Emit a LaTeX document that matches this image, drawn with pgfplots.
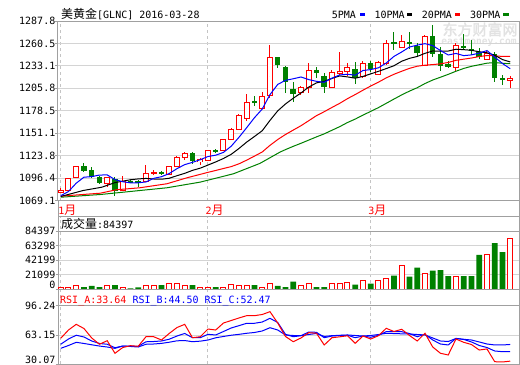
\documentclass[border=0pt]{standalone}
\usepackage{pgfplots}
\pgfplotsset{compat=1.18}
\usepackage{pgfplotstable}
\usepackage{fontspec}
\setmainfont{DejaVu Sans Mono}
\newfontfamily\cjk{Noto Sans CJK SC}
\newfontfamily\cjkb[FakeBold=2]{Noto Sans CJK SC}
\definecolor{cred}{HTML}{FF0000}
\definecolor{cgreen}{HTML}{008000}
\definecolor{cblue}{HTML}{0000FF}
\definecolor{framec}{HTML}{A0A0A0}
\definecolor{gridc}{HTML}{D4D4D4}
\definecolor{dashc}{HTML}{C4C4C4}
\definecolor{wm}{HTML}{E2E2E2}
\newcommand\yue{{\cjk\fontsize{12bp}{12bp}\selectfont 月}}

\pgfplotstableread{
i o h l c
0 1078.9 1084.4 1078.3 1081.3
1 1081.0 1096.3 1080.5 1095.6
2 1096.8 1111.5 1096.3 1110.3
6 1089.5 1098.1 1085.4 1096.8
8 1081.7 1098.8 1081.3 1092.3
11 1091.7 1112.5 1091.1 1101.7
12 1102.5 1106.6 1100.0 1103.7
14 1100.9 1111.5 1099.6 1110.3
15 1110.6 1123.7 1110.3 1121.3
16 1122.0 1128.6 1118.0 1126.2
18 1116.8 1120.8 1112.2 1118.8
19 1117.6 1130.8 1116.8 1129.8
21 1130.2 1144.5 1129.3 1143.3
22 1143.3 1157.9 1142.8 1155.5
23 1156.2 1175.0 1154.6 1173.0
24 1168.9 1198.6 1166.0 1188.8
26 1181.5 1201.1 1180.3 1196.2
27 1197.0 1258.5 1193.7 1243.5
31 1200.2 1208.4 1197.4 1206.8
32 1206.8 1236.5 1199.5 1227.6
35 1207.2 1227.9 1205.9 1224.6
36 1223.9 1250.3 1221.5 1226.4
37 1225.9 1236.9 1220.6 1231.6
39 1219.8 1238.9 1218.8 1236.1
41 1222.7 1239.3 1221.8 1237.3
42 1235.6 1265.0 1234.7 1260.6
44 1255.7 1271.1 1254.8 1263.0
47 1233.2 1270.7 1232.8 1269.5
51 1230.7 1260.9 1225.5 1258.5
55 1241.4 1251.5 1240.2 1248.3
58 1214.9 1220.6 1205.6 1218.2
}\upc

\pgfplotstableread{
i o h l c
3 1110.3 1114.7 1104.2 1105.4
4 1105.8 1110.3 1096.8 1098.4
5 1096.8 1099.3 1089.9 1090.7
7 1095.1 1097.6 1074.4 1081.7
9 1092.3 1093.5 1090.5 1091.5
10 1092.3 1093.5 1085.0 1091.1
13 1103.7 1105.4 1099.6 1102.5
17 1126.2 1127.8 1113.9 1117.6
20 1130.2 1131.8 1127.4 1129.0
25 1190.1 1197.0 1184.8 1189.2
28 1243.5 1244.2 1230.0 1234.9
29 1231.2 1232.8 1200.2 1213.6
30 1204.4 1213.6 1189.2 1199.0
33 1227.6 1231.2 1217.8 1224.6
34 1220.6 1223.9 1200.2 1207.5
38 1228.8 1237.3 1210.5 1219.0
40 1235.6 1239.3 1225.9 1230.0
43 1261.8 1274.7 1252.7 1259.7
45 1262.1 1274.7 1254.0 1259.7
46 1257.3 1260.6 1245.0 1249.1
48 1269.5 1282.6 1243.8 1247.5
49 1247.5 1255.7 1226.7 1233.2
50 1234.4 1238.9 1230.4 1232.8
52 1257.3 1271.6 1253.6 1256.0
53 1253.2 1264.6 1246.3 1252.0
54 1249.6 1254.5 1241.4 1244.2
56 1246.6 1250.3 1213.6 1219.0
57 1217.8 1221.8 1210.0 1216.6
}\downc

\pgfplotstableread{
i v
0 1900
1 2900
2 4400
6 4400
8 1500
11 4400
12 5300
14 7800
15 8700
16 5800
18 2400
19 2400
21 2900
22 6800
23 5800
24 5800
26 2400
27 8700
31 4400
32 7300
35 8700
36 8700
37 9700
39 12600
41 12600
42 16000
44 33500
47 22800
51 18900
55 49500
58 73700
}\upv

\pgfplotstableread{
i v
3 2900
4 4400
5 2900
7 5800
9 1000
10 2400
13 5800
17 5800
20 2900
25 5800
28 4400
29 2900
30 10700
33 2900
34 2900
38 6300
40 7700
43 19400
45 17900
46 31000
48 26600
49 27600
50 18900
52 18900
53 18900
54 49500
56 66900
57 53800
}\downv

\pgfplotsset{
  panel/.style={
    scale only axis, anchor=north west, width=461.3bp,
    xmin=-0.35, xmax=59.17,
    axis line style={framec, line width=1bp},
    xtick={0,19,40}, xmajorgrids,
    major x grid style={dashc, dash pattern=on 3bp off 3bp, line width=1bp},
    ymajorgrids, major y grid style={gridc, line width=1bp},
    tick align=outside, major tick length=2.5bp,
    ytick style={draw=framec, line width=1bp},
    xtick style={draw=none},
    yticklabel style={font=\fontsize{10bp}{10bp}\selectfont, inner sep=0pt},
    scaled y ticks=false,
  },
  wick/.style={only marks, mark=none, mark size=0pt, mark options={draw=none, fill=none}, forget plot,
    error bars/.cd, y dir=both, y explicit, error mark=none,
    error bar style={draw=#1, line width=1bp}},
  body/.style 2 args={only marks, mark=none, mark size=0pt, mark options={draw=none, fill=none}, forget plot,
    error bars/.cd, y dir=both, y explicit, error mark=none,
    error bar style={draw=#1, line width=#2, line cap=butt}},
}

\begin{document}
\begin{tikzpicture}
\path[use as bounding box] (0,0) rectangle (520bp,-365bp);

% watermark
\node[text=wm, inner sep=0, font=\cjkb\fontsize{15bp}{15bp}\selectfont] at (480bp,-29.5bp) {东方财富网};
\node[text=wm, inner sep=0, font=\bfseries\fontsize{9.6bp}{10bp}\selectfont] at (479bp,-42.5bp) {eastmoney.com};

% price panel
\begin{axis}[panel, at={(58bp,-21bp)}, height=179.5bp,
  ymin=1069.1, ymax=1287.8,
  ytick={1069.1,1096.4,1123.8,1151.1,1178.5,1205.8,1233.1,1260.5,1287.8},
  yticklabels={1069.1,1096.4,1123.8,1151.1,1178.5,1205.8,1233.1,1260.5,1287.8},
  xticklabels={1\yue,2\yue,3\yue},
  xticklabel style={anchor=north west, inner sep=0pt, xshift=-2.5bp, yshift=-2bp, text=cred, font=\fontsize{10bp}{12bp}\selectfont},
]
% wicks
\addplot[wick=cred] table[x=i, y=c, y error plus expr={\thisrow{h}-\thisrow{c}}, y error minus expr={\thisrow{c}-\thisrow{l}}] {\upc};
\addplot[wick=cgreen] table[x=i, y=c, y error plus expr={\thisrow{h}-\thisrow{c}}, y error minus expr={\thisrow{c}-\thisrow{l}}] {\downc};
% bodies
\addplot[body={cred}{6bp}] table[x=i, y expr={(\thisrow{o}+\thisrow{c})/2}, y error expr={abs(\thisrow{c}-\thisrow{o})/2+0.6}] {\upc};
\addplot[body={white}{4bp}] table[x=i, y expr={(\thisrow{o}+\thisrow{c})/2}, y error expr={max(abs(\thisrow{c}-\thisrow{o})/2-0.6,0)}] {\upc};
\addplot[body={cgreen}{5.5bp}] table[x=i, y expr={(\thisrow{o}+\thisrow{c})/2}, y error expr={abs(\thisrow{c}-\thisrow{o})/2+0.5}] {\downc};
% moving averages
\addplot[cgreen, line width=1bp] coordinates {(0,1073.1)(5.1,1076.4)(9.4,1080.5)(13.7,1084.6)(18,1091.5)(22.3,1101.7)(25.7,1114.3)(28.3,1128.1)(29,1131.1)(30,1135.1)(31,1138.8)(32,1142.7)(33,1146.6)(34,1150.3)(35,1154.7)(36,1159.1)(37,1164.1)(38,1168.3)(39,1173.1)(40,1177.7)(41,1182.3)(42,1187.5)(43,1192.7)(44,1197.8)(45,1202.4)(46,1206.5)(47,1211.6)(48,1215.9)(49,1219.3)(50,1222.8)(51,1226.6)(52,1230.0)(53,1232.6)(54,1234.5)(55,1236.4)(56,1237.2)(57,1236.3)(58,1235.7)};
\addplot[cred, line width=1bp] coordinates {(0,1074.4)(5.1,1078.0)(7.2,1082.2)(10.2,1084.6)(13.7,1089.5)(16.3,1096.8)(19,1103.4)(20,1105.7)(21,1108.1)(22,1110.4)(23,1113.8)(24,1118.3)(25,1123.2)(26,1128.2)(27,1136.3)(28,1143.4)(29,1149.5)(30,1154.9)(31,1160.2)(32,1166.3)(33,1172.5)(34,1177.3)(35,1182.5)(36,1187.5)(37,1193.2)(38,1198.2)(39,1203.5)(40,1208.6)(41,1213.3)(42,1218.5)(43,1222.9)(44,1226.6)(45,1230.1)(46,1232.7)(47,1234.0)(48,1234.7)(49,1235.6)(50,1237.3)(51,1239.9)(52,1241.3)(53,1242.7)(54,1244.5)(55,1245.7)(56,1245.4)(57,1244.6)(58,1244.6)};
\addplot[black, line width=1bp] coordinates {(0,1074.0)(2.9,1081.3)(5.3,1085.3)(7,1090.9)(9,1094.4)(10,1095.4)(11,1096.0)(12,1095.3)(13,1095.0)(14,1096.2)(15,1099.3)(16,1102.2)(17,1105.8)(18,1108.5)(19,1112.3)(20,1116.1)(21,1120.3)(22,1125.4)(23,1132.5)(24,1140.3)(25,1147.1)(26,1154.1)(27,1166.7)(28,1178.3)(29,1186.7)(30,1193.7)(31,1200.1)(32,1207.3)(33,1212.4)(34,1214.3)(35,1217.8)(36,1220.9)(37,1219.7)(38,1218.1)(39,1220.3)(40,1223.4)(41,1226.5)(42,1229.8)(43,1233.3)(44,1238.8)(45,1242.3)(46,1244.6)(47,1248.4)(48,1251.3)(49,1251.0)(50,1251.2)(51,1253.4)(52,1252.9)(53,1252.1)(54,1250.3)(55,1249.1)(56,1246.1)(57,1240.8)(58,1237.9)};
\addplot[cblue, line width=1bp] coordinates {(0,1075.0)(1,1080.0)(2,1090.2)(3,1097.5)(4,1098.2)(5,1100.1)(6,1100.3)(7,1094.6)(8,1092.0)(9,1090.6)(10,1090.7)(11,1091.7)(12,1096.1)(13,1098.1)(14,1101.9)(15,1107.9)(16,1112.8)(17,1115.6)(18,1118.8)(19,1122.7)(20,1124.3)(21,1127.7)(22,1135.3)(23,1146.1)(24,1157.9)(25,1170.0)(26,1180.5)(27,1198.1)(28,1210.5)(29,1215.5)(30,1217.4)(31,1219.6)(32,1216.4)(33,1214.3)(34,1213.1)(35,1218.2)(36,1222.1)(37,1222.9)(38,1221.8)(39,1227.5)(40,1228.6)(41,1230.8)(42,1236.6)(43,1244.7)(44,1250.1)(45,1256.1)(46,1258.4)(47,1260.2)(48,1257.8)(49,1251.8)(50,1246.4)(51,1248.3)(52,1245.6)(53,1246.5)(54,1248.7)(55,1251.8)(56,1243.9)(57,1236.0)(58,1229.7)};
\end{axis}

% volume panel
\begin{axis}[panel, at={(58bp,-216.7bp)}, height=72.3bp,
  ymin=0, ymax=105205,
  ytick={0,21099,42199,63298}, yticklabels={\raisebox{0.5bp}[0pt][0pt]{0},21099,42199,63298},
  extra y ticks={84397}, extra y tick labels={84397},
  extra y tick style={major y grid style={framec, line width=1bp}},
  xticklabels={,,},
]
\addplot[ybar, bar width=5bp, bar shift=0pt, draw=cred, fill=white, line width=1bp] table[x=i, y=v] {\upv};
\addplot[ybar, bar width=5.7bp, bar shift=0pt, draw=none, fill=cgreen] table[x=i, y=v] {\downv};
\end{axis}

% RSI panel
\begin{axis}[panel, at={(58bp,-289bp)}, height=75.3bp,
  ymin=30.07, ymax=115.1,
  ytick={30.07,63.15}, yticklabels={\raisebox{1bp}[0pt][0pt]{30.07},63.15},
  extra y ticks={96.24}, extra y tick labels={96.24},
  extra y tick style={major y grid style={framec, line width=1bp}},
  xticklabels={,,},
]
\addplot[cblue, line width=1bp] coordinates {(0,48.1)(1,51.3)(2,54.9)(3,53.6)(4,52.1)(5,50.7)(6,49.6)(7,48.1)(8,50.7)(9,50.2)(10,49.6)(11,52.7)(12,53.0)(13,53.7)(14,55.0)(15,56.6)(16,56.9)(17,55.6)(18,56.2)(19,57.5)(20,60.0)(21,61.5)(22,62.9)(23,63.9)(24,65.1)(25,66.0)(26,67.7)(27,71.4)(28,68.8)(29,63.2)(30,62.6)(31,62.4)(32,63.7)(33,64.9)(34,61.5)(35,62.4)(36,62.8)(37,63.2)(38,62.6)(39,62.0)(40,62.6)(41,63.7)(42,65.1)(43,64.8)(44,64.5)(45,64.3)(46,63.7)(47,63.2)(48,59.8)(49,56.4)(50,55.8)(51,59.2)(52,58.3)(53,57.5)(54,55.3)(55,53.0)(56,51.9)(57,51.9)(58,52.47)};
\addplot[cblue, line width=1bp] coordinates {(0,52.7)(1,58.6)(2,62.9)(3,60.9)(4,56.4)(5,53.6)(6,52.7)(7,48.8)(8,50.7)(9,50.5)(10,50.4)(11,55.5)(12,55.8)(13,56.4)(14,58.4)(15,62.0)(16,64.9)(17,60.1)(18,60.1)(19,63.9)(20,63.2)(21,67.1)(22,71.1)(23,73.7)(24,76.4)(25,76.4)(26,77.8)(27,82.0)(28,77.3)(29,63.9)(30,61.2)(31,62.4)(32,66.5)(33,66.2)(34,60.1)(35,62.0)(36,62.6)(37,62.9)(38,60.1)(39,62.0)(40,60.6)(41,62.8)(42,66.9)(43,66.9)(44,66.9)(45,64.8)(46,61.2)(47,63.9)(48,57.5)(49,53.0)(50,51.9)(51,59.4)(52,58.1)(53,55.3)(54,51.3)(55,49.0)(56,45.1)(57,44.3)(58,44.50)};
\addplot[cred, line width=1bp] coordinates {(0,59.4)(1,68.8)(2,75.2)(3,70.5)(4,59.8)(5,52.7)(6,56.7)(7,42.5)(8,49.0)(9,51.1)(10,50.4)(11,61.2)(12,61.2)(13,57.5)(14,64.9)(15,71.6)(16,75.2)(17,60.1)(18,61.2)(19,69.9)(20,68.8)(21,76.7)(22,79.5)(23,82.4)(24,85.0)(25,85.0)(26,86.3)(27,89.5)(28,76.7)(29,61.5)(30,55.6)(31,59.8)(32,65.8)(33,65.1)(34,51.9)(35,60.1)(36,61.1)(37,62.3)(38,53.8)(39,62.0)(40,58.6)(41,62.4)(42,70.7)(43,67.1)(44,69.6)(45,62.6)(46,56.4)(47,65.1)(48,49.6)(49,42.5)(50,40.6)(51,58.6)(52,54.9)(53,52.4)(54,46.2)(55,47.4)(56,33.0)(57,32.7)(58,33.64)};
\end{axis}

% frame connectors between panels
\draw[framec, line width=1bp] (58bp,-200.5bp) -- (58bp,-216.7bp);
\draw[framec, line width=1bp] (519.3bp,-200.5bp) -- (519.3bp,-216.7bp);

% titles
\node[anchor=base west, inner sep=0, font=\fontsize{10bp}{12bp}\selectfont] at (61bp,-18bp) {{\cjk\fontsize{12bp}{12bp}\selectfont 美黄金}[GLNC] 2016-03-28};
\node[anchor=base west, inner sep=0, font=\fontsize{10bp}{12bp}\selectfont] at (331.7bp,-18bp) {5PMA};
\fill[cblue] (360bp,-13.2bp) rectangle (365.3bp,-15.8bp);
\node[anchor=base west, inner sep=0, font=\fontsize{10bp}{12bp}\selectfont] at (374.3bp,-18bp) {10PMA};
\fill[black] (406.7bp,-13.2bp) rectangle (412bp,-15.8bp);
\node[anchor=base west, inner sep=0, font=\fontsize{10bp}{12bp}\selectfont] at (421.7bp,-18bp) {20PMA};
\fill[cred] (455bp,-13.2bp) rectangle (460.3bp,-15.8bp);
\node[anchor=base west, inner sep=0, font=\fontsize{10bp}{12bp}\selectfont] at (470bp,-18bp) {30PMA};
\fill[cgreen] (503.3bp,-13.2bp) rectangle (508.6bp,-15.8bp);

\node[anchor=base west, inner sep=0, font=\fontsize{10bp}{12bp}\selectfont] at (61bp,-228bp) {{\cjk\fontsize{12bp}{12bp}\selectfont 成交量}:84397};

\node[anchor=base west, inner sep=0, text=cred, font=\fontsize{10bp}{12bp}\selectfont] at (60bp,-303.5bp) {RSI\_A:33.64};
\node[anchor=base west, inner sep=0, text=cblue, font=\fontsize{10bp}{12bp}\selectfont] at (132.3bp,-303.5bp) {RSI\_B:44.50};
\node[anchor=base west, inner sep=0, text=cblue, font=\fontsize{10bp}{12bp}\selectfont] at (204.3bp,-303.5bp) {RSI\_C:52.47};
\end{tikzpicture}
\end{document}
